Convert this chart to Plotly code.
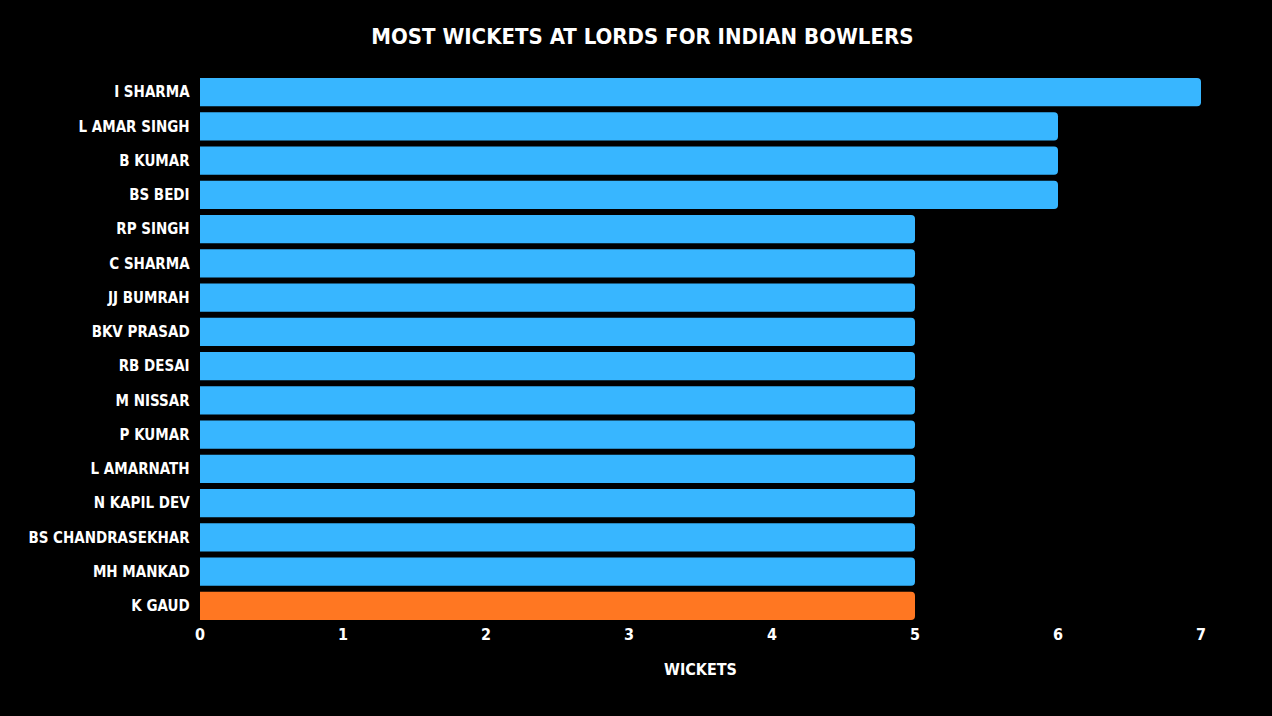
import plotly.graph_objects as go

# data (top to bottom)
bowlers = ["I SHARMA", "L AMAR SINGH", "B KUMAR", "BS BEDI", "RP SINGH", "C SHARMA",
           "JJ BUMRAH", "BKV PRASAD", "RB DESAI", "M NISSAR", "P KUMAR", "L AMARNATH",
           "N KAPIL DEV", "BS CHANDRASEKHAR", "MH MANKAD", "K GAUD"]
wickets = [7, 6, 6, 6, 5, 5, 5, 5, 5, 5, 5, 5, 5, 5, 5, 5]
highlight = "K GAUD"

BLUE = "#38b6ff"
ORANGE = "#ff7722"
FONT = "DejaVu Sans Condensed, Roboto Condensed, Roboto, sans-serif"

colors = [ORANGE if b == highlight else BLUE for b in bowlers]

fig = go.Figure()
fig.add_trace(go.Bar(
    x=wickets,
    y=bowlers,
    orientation="h",
    marker=dict(color=colors, line=dict(width=0)),
    hoverinfo="x+y",
))

fig.update_layout(
    width=1272,
    height=716,
    paper_bgcolor="black",
    plot_bgcolor="black",
    margin=dict(l=200, r=71, t=75, b=93),
    bargap=0.18,
    barcornerradius=4,
    showlegend=False,
    title=dict(
        text="<b>MOST WICKETS AT LORDS FOR INDIAN BOWLERS</b>",
        x=0.505, xanchor="center", y=0.95, yanchor="middle",
        font=dict(family=FONT, size=22, color="white"),
    ),
    font=dict(family=FONT, color="white", size=16),
)

fig.update_xaxes(
    range=[0, 7],
    dtick=1,
    showgrid=False,
    zeroline=False,
    showline=False,
    automargin=False,
    tickfont=dict(family=FONT, size=16, color="white", weight="bold"),
    title=dict(text="<b>WICKETS</b>", font=dict(family=FONT, size=16, color="white"), standoff=20),
)
fig.update_yaxes(
    categoryorder="array",
    categoryarray=bowlers[::-1],
    showgrid=False,
    zeroline=False,
    showline=False,
    automargin=False,
    ticksuffix="  ",
    tickfont=dict(family=FONT, size=15, color="white", weight="bold"),
)

fig.write_html(
    "out.html",
    config={"displayModeBar": False},
    post_script="document.body.style.margin='0';document.body.style.background='black';",
)
